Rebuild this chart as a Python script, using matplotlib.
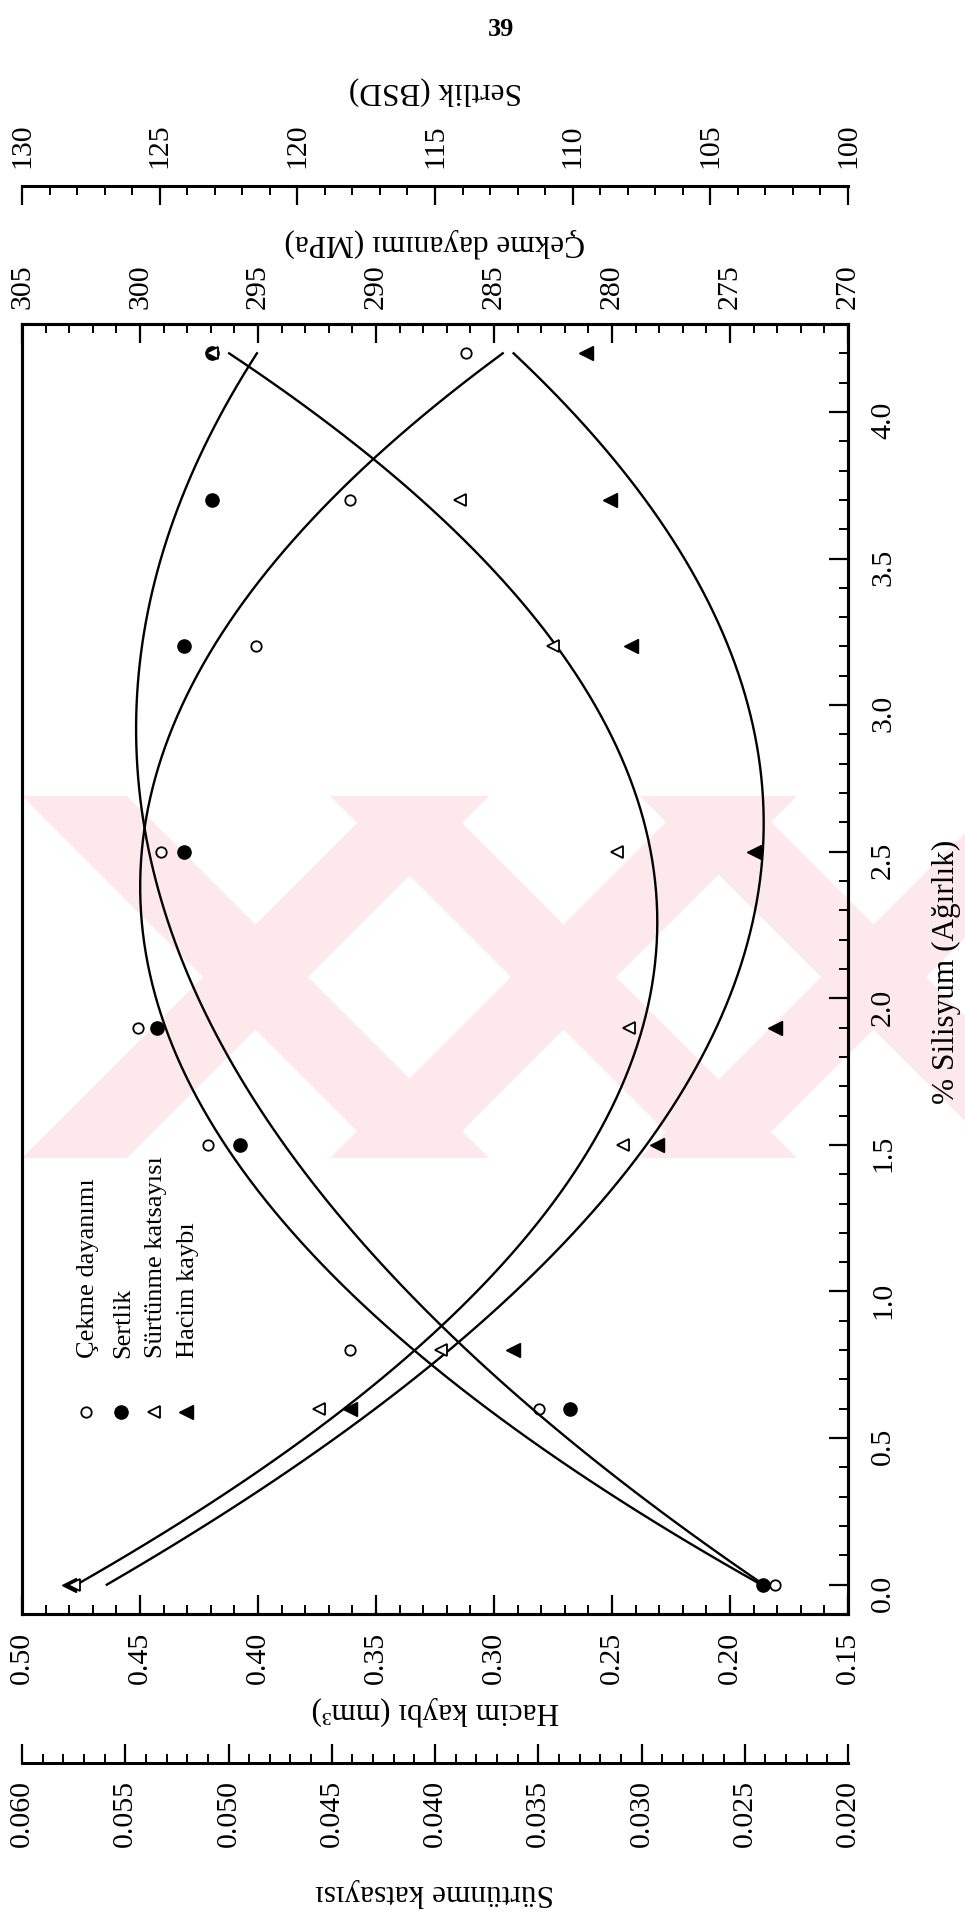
import numpy as np
import matplotlib
matplotlib.use('Agg')
import matplotlib.pyplot as plt
from matplotlib.ticker import MultipleLocator, FormatStrFormatter
from matplotlib.patches import Rectangle, Polygon

plt.rcParams['font.family'] = ['Liberation Serif', 'DejaVu Serif']

# --- veriler ---
silisyum = [0.0, 0.6, 0.8, 1.5, 1.9, 2.5, 3.2, 3.7, 4.2]
cekme = [273.1, 283.1, 291.1, 297.1, 300.1, 299.1, 295.1, 291.1, 286.2]
silisyum_sertlik = [0.0, 0.6, 1.5, 1.9, 2.5, 3.2, 3.7, 4.2]
sertlik = [103.1, 110.1, 122.1, 125.1, 124.1, 124.1, 123.1, 123.1]
surtunme = [0.0575, 0.0456, 0.0397, 0.0309, 0.0306, 0.0312, 0.0343, 0.0388, 0.0508]
hacim = [0.480, 0.361, 0.292, 0.231, 0.181, 0.190, 0.242, 0.251, 0.261]

legend_labels = ['Çekme dayanımı', 'Sertlik', 'Sürtünme katsayısı', 'Hacim kaybı']

W, H = 965, 1918
FS_TICK = 21.5
FS_TITLE = 22.5


def fx(px):
    return px / W


def fy(py):
    return 1 - py / H


fig = plt.figure(figsize=(W / 100, H / 100), dpi=100)

# soluk pembe filigran (çapraz bantlar)
wm_top, wm_bot, wm_left, wm_right = 796, 1158, 22, 965
clip = Rectangle((fx(wm_left), fy(wm_bot)), fx(wm_right - wm_left), (wm_bot - wm_top) / H,
                 transform=fig.transFigure, visible=False)
fig.add_artist(clip)
hgt = wm_bot - wm_top
for x0 in [22, 330, 640]:
    for sign in [1, -1]:
        if sign == 1:   # "\" bant
            pts = [(x0, wm_top), (x0 + 105, wm_top), (x0 + 105 + hgt, wm_bot), (x0 + hgt, wm_bot)]
        else:           # "/" bant
            pts = [(x0, wm_bot), (x0 + 105, wm_bot), (x0 + 105 + hgt, wm_top), (x0 + hgt, wm_top)]
        poly = Polygon([(fx(px), fy(py)) for px, py in pts], closed=True,
                       transform=fig.transFigure, color='#fde8ec', lw=0, zorder=0)
        fig.add_artist(poly)
        poly.set_clip_path(clip)

L, R, T, B = 22, 848, 324, 1614
ax = fig.add_axes([fx(L), fy(B), fx(R - L), (B - T) / H])

# ana eksen: hacim kaybı (alt) + silisyum (sağ)
ax.set_xlim(0.50, 0.15)
ax.set_ylim(-0.1, 4.3)
ax.xaxis.set_major_locator(MultipleLocator(0.05))
ax.xaxis.set_minor_locator(MultipleLocator(0.01))
ax.xaxis.set_major_formatter(FormatStrFormatter('%.2f'))
ax.yaxis.set_major_locator(MultipleLocator(0.5))
ax.yaxis.set_minor_locator(MultipleLocator(0.1))
ax.yaxis.set_major_formatter(FormatStrFormatter('%.1f'))
ax.tick_params(axis='x', which='both', direction='in', top=False, bottom=True,
               labelrotation=90, labelsize=FS_TICK, pad=13)
ax.tick_params(axis='y', which='both', direction='in', left=False, right=True,
               labelleft=False, labelright=True, labelrotation=90,
               labelsize=FS_TICK, pad=16)

ax_cek = ax.twiny()
ax_cek.set_xlim(305, 270)
ax_cek.xaxis.set_major_locator(MultipleLocator(5))
ax_cek.xaxis.set_minor_locator(MultipleLocator(1))
ax_cek.tick_params(axis='x', which='both', direction='in', labelrotation=90,
                   labelsize=FS_TICK, pad=11)

ax_ser = ax.twiny()
ax_ser.set_xlim(130, 100)
ax_ser.xaxis.set_major_locator(MultipleLocator(5))
ax_ser.xaxis.set_minor_locator(MultipleLocator(1))
ax_ser.spines['top'].set_position(('axes', 1 + (T - 186) / (B - T)))
for s in ['left', 'right', 'bottom']:
    ax_ser.spines[s].set_visible(False)
ax_ser.tick_params(axis='x', which='both', direction='in', labelrotation=90,
                   labelsize=FS_TICK, pad=13)

ax_sur = ax.twiny()
ax_sur.set_xlim(0.060, 0.020)
ax_sur.xaxis.set_ticks_position('bottom')
ax_sur.xaxis.set_label_position('bottom')
ax_sur.spines['bottom'].set_position(('axes', -(1763 - B) / (B - T)))
for s in ['left', 'right', 'top']:
    ax_sur.spines[s].set_visible(False)
ax_sur.xaxis.set_major_locator(MultipleLocator(0.005))
ax_sur.xaxis.set_minor_locator(MultipleLocator(0.001))
ax_sur.xaxis.set_major_formatter(FormatStrFormatter('%.3f'))
ax_sur.tick_params(axis='x', which='both', direction='in', labelrotation=90,
                   labelsize=FS_TICK, pad=12)

for a in [ax, ax_cek, ax_ser, ax_sur]:
    for sp in a.spines.values():
        sp.set_linewidth(2.2)
    a.tick_params(which='major', length=13.5, width=1.6)
    a.tick_params(which='minor', length=6.5, width=1.4)
    a.patch.set_visible(False)

# regresyon eğrileri (2. derece)
s_line = np.linspace(0, 4.2, 120)
curve_kw = dict(color='black', lw=1.7, zorder=3)
ax_cek.plot(np.polyval(np.polyfit(silisyum, cekme, 2), s_line), s_line, **curve_kw)
ax_ser.plot(np.polyval(np.polyfit(silisyum_sertlik, sertlik, 2), s_line), s_line, **curve_kw)
ax_sur.plot(np.polyval(np.polyfit(silisyum, surtunme, 2), s_line), s_line, **curve_kw)
ax.plot(np.polyval(np.polyfit(silisyum, hacim, 2), s_line), s_line, **curve_kw)

# noktalar
ax_cek.plot(cekme, silisyum, 'o', ms=7.5, mfc='white', mec='black', mew=1.3, ls='none', zorder=4)
ax_ser.plot(sertlik, silisyum_sertlik, 'o', ms=9.5, color='black', ls='none', zorder=4)
ax_sur.plot(surtunme, silisyum, '<', ms=9, mfc='white', mec='black', mew=1.3, ls='none', zorder=5)
ax.plot(hacim, silisyum, '<', ms=10.5, color='black', ls='none', zorder=4)

# lejant (döndürülmüş)
leg_styles = [dict(marker='o', ms=7.5, mfc='white', mec='black', mew=1.3),
              dict(marker='o', ms=9.5, mfc='black', mec='black'),
              dict(marker='<', ms=9, mfc='white', mec='black', mew=1.3),
              dict(marker='<', ms=10.5, mfc='black', mec='black')]
leg_x = [86, 121, 154, 186]
for xm, lab, st in zip(leg_x, legend_labels, leg_styles):
    fig.add_artist(plt.Line2D([fx(xm)], [fy(1412)], ls='none', transform=fig.transFigure, **st))
    fig.text(fx(xm + 2), fy(1358), lab, rotation=90, ha='center', va='bottom', fontsize=19)

# eksen başlıkları
fig.text(fx(435), fy(91), 'Sertlik (BSD)', rotation=180, ha='center', va='center', fontsize=FS_TITLE)
fig.text(fx(435), fy(243), 'Çekme dayanımı (MPa)', rotation=180, ha='center', va='center', fontsize=FS_TITLE)
fig.text(fx(435), fy(1711), 'Hacim kaybı (mm³)', rotation=180, ha='center', va='center', fontsize=FS_TITLE)
fig.text(fx(435), fy(1893), 'Sürtünme katsayısı', rotation=180, ha='center', va='center', fontsize=FS_TITLE)
fig.text(fx(946), fy(972), '% Silisyum (Ağırlık)', rotation=90, ha='center', va='center', fontsize=FS_TITLE)
fig.text(fx(501), fy(30), '39', ha='center', va='center', fontsize=19, fontweight='bold')

fig.savefig('out.png', dpi=100)
